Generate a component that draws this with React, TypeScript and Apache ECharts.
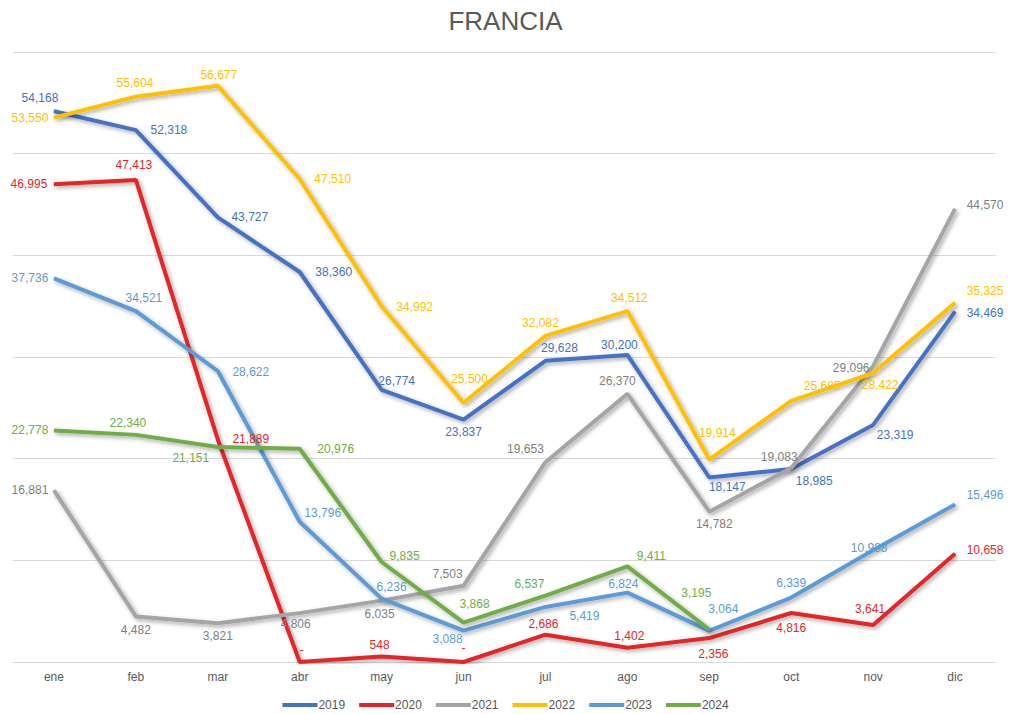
import React, { useEffect, useRef } from "react";
import * as echarts from "echarts";

const months = ["ene", "feb", "mar", "abr", "may", "jun", "jul", "ago", "sep", "oct", "nov", "dic"];
const seriesNames = ["2019", "2020", "2021", "2022", "2023", "2024"];

const v2019 = [54168, 52318, 43727, 38360, 26774, 23837, 29628, 30200, 18147, 18985, 23319, 34469];
const v2020 = [46995, 47413, 21889, 0, 548, 0, 2686, 1402, 2356, 4816, 3641, 10658];
const v2021 = [16881, 4482, 3821, 4806, 6035, 7503, 19653, 26370, 14782, 19083, 29096, 44570];
const v2022 = [53550, 55604, 56677, 47510, 34992, 25500, 32082, 34512, 19914, 25685, 28422, 35325];
const v2023 = [37736, 34521, 28622, 13796, 6236, 3088, 5419, 6824, 3064, 6339, 10988, 15496];
const v2024 = [22778, 22340, 21151, 20976, 9835, 3868, 6537, 9411, 3195, null, null, null];

const lineColors = ["#4472C4", "#E42527", "#A5A5A5", "#FFC000", "#5B9BD5", "#70AD47"];
const labelColors = ["#4472C4", "#E42527", "#7F7F7F", "#FFC000", "#5B9BD5", "#70AD47"];

// label offsets (dx, dy) in pixels, per series, per month
const off2019 = [[-14, -13], [33, 0], [32, 0], [34, 0], [15, -9], [0, 12], [14, -13], [-8, -10], [18, 9], [23, 12], [22, 10], [30, 1]];
const off2020 = [[-25, 0], [-2, -15], [33, 0], [2, -12], [-2, -11], [0, -14], [-2, -11], [2, -12], [4, 16], [0, 15], [-3, -16], [30, -4]];
const off2021 = [[-24, 0], [0, 14], [0, 13], [-4, 11], [-2, 13], [-16, -12], [-20, -13], [-10, -13], [5, 12], [-12, -11], [-22, 2], [30, -4]];
const off2022 = [[-24, 0], [-1, -14], [1, -11], [33, 0], [33, 1], [6, -24], [-5, -13], [2, -13], [8, -27], [31, -15], [7, 12], [30, -12]];
const off2023 = [[-24, 0], [8, -13], [33, 1], [23, -9], [10, -12], [-16, 8], [39, 9], [-4, -9], [14, -22], [0, -15], [-4, -2], [30, -9]];
const off2024 = [[-24, 0], [-8, -12], [-27, 11], [36, 0], [23, -6], [11, -19], [-16, -12], [24, -10], [-13, -37], [0, 0], [0, 0], [0, 0]];

const allValues = [v2019, v2020, v2021, v2022, v2023, v2024];
const allOffsets = [off2019, off2020, off2021, off2022, off2023, off2024];

const fmt = (v: number) => (v === 0 ? "-" : v.toLocaleString("en-US"));

export default function App() {
  const ref = useRef<HTMLDivElement>(null);
  useEffect(() => {
    if (!ref.current) return;
    const chart = echarts.init(ref.current, undefined, { renderer: "svg" });
    const font = "'Liberation Sans', Arial, sans-serif";
    const series = seriesNames.map((name, si) => ({
      name,
      type: "line",
      symbol: "circle",
      symbolSize: 1,
      showSymbol: true,
      itemStyle: { color: lineColors[si] },
      lineStyle: {
        width: 4,
        color: lineColors[si],
        shadowColor: "rgba(0,0,0,0.35)",
        shadowBlur: 4,
        shadowOffsetX: 2,
        shadowOffsetY: 2,
      },
      emphasis: { disabled: true },
      data: allValues[si].map((v, i) => ({
        value: v,
        label: {
          show: v !== null,
          position: "inside",
          offset: allOffsets[si][i],
          formatter: () => fmt(v as number),
          color: labelColors[si],
          fontSize: 12,
          fontFamily: font,
        },
      })),
    }));
    chart.setOption({
      animation: false,
      backgroundColor: "#ffffff",
      title: {
        text: "FRANCIA",
        left: "center",
        top: 3,
        textStyle: { color: "#595959", fontSize: 26, fontWeight: "normal", fontFamily: font },
      },
      legend: {
        top: 699,
        left: "center",
        padding: 0,
        icon: "rect",
        itemWidth: 35,
        itemHeight: 4,
        itemGap: 14,
        textStyle: { color: "#595959", fontSize: 12, fontFamily: font, padding: [0, 0, 0, -4] },
        data: seriesNames,
      },
      grid: { left: 13, right: 15, top: 52, bottom: 52, containLabel: false },
      xAxis: {
        type: "category",
        data: months,
        boundaryGap: true,
        axisLine: { lineStyle: { color: "#D9D9D9", width: 1 } },
        axisTick: { show: false },
        axisLabel: { color: "#595959", fontSize: 12, fontFamily: font, margin: 9 },
      },
      yAxis: {
        type: "value",
        min: 0,
        max: 60000,
        interval: 10000,
        axisLabel: { show: false },
        axisLine: { show: false },
        axisTick: { show: false },
        splitLine: { lineStyle: { color: "#D9D9D9", width: 1 } },
      },
      series,
    });
    return () => chart.dispose();
  }, []);
  return (
    <div
      ref={ref}
      style={{ position: "fixed", left: 0, top: 0, width: 1011, height: 714, background: "#fff" }}
    />
  );
}
